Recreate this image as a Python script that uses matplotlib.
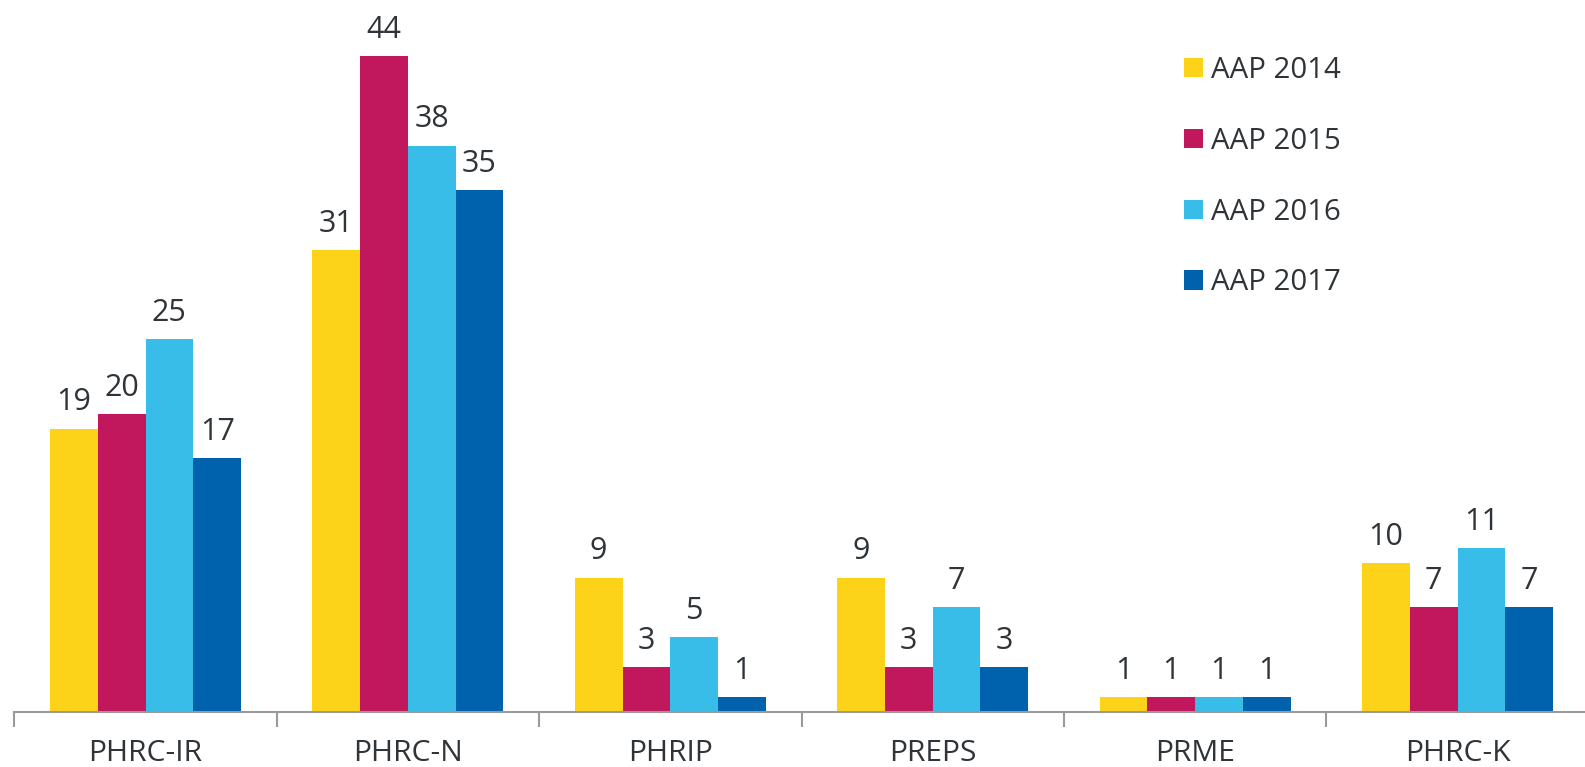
import matplotlib
matplotlib.use("Agg")
import matplotlib.pyplot as plt
import numpy as np

categories = ["PHRC-IR", "PHRC-N", "PHRIP", "PREPS", "PRME", "PHRC-K"]
series_names = ["AAP 2014", "AAP 2015", "AAP 2016", "AAP 2017"]
aap2014 = [19, 31, 9, 9, 1, 10]
aap2015 = [20, 44, 3, 3, 1, 7]
aap2016 = [25, 38, 5, 7, 1, 11]
aap2017 = [17, 35, 1, 3, 1, 7]
colors = ["#FDD319", "#C0175D", "#38BDE8", "#0062AD"]

plt.rcParams['font.family'] = ['Open Sans', 'DejaVu Sans']
text_color = "#2f3439"

W, H = 1585, 767
fig = plt.figure(figsize=(W / 100, H / 100), dpi=100)
left_px = 14.3
cat_px = 262.4
axis_y = 711.7
unit_px = 14.9
ymax = 47
ax = fig.add_axes([left_px / W, (H - axis_y) / H, 6 * cat_px / W, ymax * unit_px / H])

x = np.arange(len(categories))
bw = 0.182
all_series = [aap2014, aap2015, aap2016, aap2017]
for i, (vals, name, c) in enumerate(zip(all_series, series_names, colors)):
    pos = x + (i - 1.5) * bw
    bars = ax.bar(pos, vals, width=bw, color=c, label=name, zorder=2)
    for p, v in zip(pos, vals):
        ax.annotate(str(v), (p, v), xytext=(0, 8), textcoords="offset points",
                    ha="center", va="bottom", fontsize=22, color=text_color)

ax.set_xlim(-0.5, 5.5)
ax.set_ylim(0, ymax)
ax.set_yticks([])
ax.set_xticks(np.arange(-0.5, 6, 1.0))
ax.set_xticklabels([])
ax.set_xticks(x, minor=True)
ax.set_xticklabels(categories, minor=True)
ax.tick_params(axis="x", which="major", length=11, width=1.5, color="#9a9a9a", direction="out")
ax.tick_params(axis="x", which="minor", length=0, pad=20, labelsize=21.6, labelcolor=text_color)
for s in ["top", "right", "left"]:
    ax.spines[s].set_visible(False)
ax.spines["bottom"].set_color("#9a9a9a")
ax.spines["bottom"].set_linewidth(1.5)

leg = fig.legend(loc="upper left", bbox_to_anchor=(1184 / W, 1 - 56 / H),
                 frameon=False, fontsize=21.2, handlelength=0.64, handleheight=0.64,
                 handletextpad=0.28, labelspacing=1.42, borderpad=0, borderaxespad=0)
for t in leg.get_texts():
    t.set_color(text_color)

fig.savefig("out.png", dpi=100)
